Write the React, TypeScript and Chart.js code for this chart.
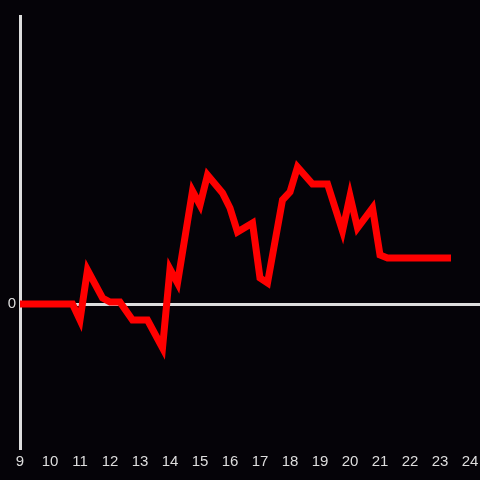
import React, { useEffect, useRef } from "react";
import { Chart, registerables } from "chart.js";

Chart.register(...registerables);

const hours = [9, 10.75, 11, 11.25, 11.75, 12, 12.33, 12.75, 13.25, 13.75, 14, 14.25, 14.75, 15, 15.25, 15.75, 16, 16.25, 16.75, 17, 17.25, 17.75, 18, 18.25, 18.75, 19.25, 19.75, 20, 20.25, 20.75, 21, 21.25, 23.25];
const values = [0, 0, -0.16, 0.34, 0.06, 0.02, 0.02, -0.16, -0.16, -0.44, 0.35, 0.21, 1.13, 0.99, 1.29, 1.11, 0.96, 0.72, 0.81, 0.26, 0.21, 1.04, 1.12, 1.37, 1.2, 1.2, 0.73, 1.08, 0.76, 0.96, 0.49, 0.46, 0.46];
const xTicks = [9, 10, 11, 12, 13, 14, 15, 16, 17, 18, 19, 20, 21, 22, 23, 24];
const yTicks = [0];

const BG = "#050308";
const AXIS = "#dddddd";

export default function App() {
  const ref = useRef<HTMLCanvasElement | null>(null);
  useEffect(() => {
    document.body.style.margin = "0";
    document.body.style.background = BG;
    const bgPlugin = {
      id: "bg",
      beforeDraw(chart: any) {
        const c = chart.ctx;
        c.save();
        c.fillStyle = BG;
        c.fillRect(0, 0, chart.width, chart.height);
        c.restore();
      },
    };
    const chart = new Chart(ref.current!, {
      type: "line",
      data: {
        datasets: [
          {
            data: hours.map((h, i) => ({ x: h, y: values[i] })),
            borderColor: "#ff0000",
            borderWidth: 7,
            borderCapStyle: "square",
            borderJoinStyle: "miter",
            pointRadius: 0,
            tension: 0,
            fill: false,
          },
        ],
      },
      options: {
        animation: false,
        responsive: false,
        maintainAspectRatio: false,
        layout: { padding: { top: 16, right: 0, left: 0, bottom: 0 } },
        plugins: { legend: { display: false }, tooltip: { enabled: false } },
        scales: {
          x: {
            type: "linear",
            min: 9,
            max: 24.333,
            afterBuildTicks: (s: any) => {
              s.ticks = xTicks.map((v) => ({ value: v }));
            },
            afterFit: (s: any) => {
              s.height = 32;
              s.paddingLeft = 0;
              s.paddingRight = 0;
            },
            grid: { display: false, drawTicks: false },
            border: { display: false },
            ticks: {
              color: AXIS,
              padding: 5,
              maxRotation: 0,
              autoSkip: false,
              font: { family: "'Liberation Sans', Arial, sans-serif", size: 15 },
              callback: (v: any) => String(v),
            },
          },
          y: {
            type: "linear",
            min: -1.44,
            max: 2.88,
            afterBuildTicks: (s: any) => {
              s.ticks = yTicks.map((v) => ({ value: v }));
            },
            afterFit: (s: any) => {
              s.width = 20;
              s.paddingTop = 0;
              s.paddingBottom = 0;
            },
            grid: { color: AXIS, lineWidth: 3, drawTicks: false },
            border: { display: true, color: AXIS, width: 3 },
            ticks: {
              color: AXIS,
              padding: 4,
              font: { family: "'Liberation Sans', Arial, sans-serif", size: 15 },
              callback: (v: any) => String(v),
            },
          },
        },
      },
      plugins: [bgPlugin],
    } as any);
    return () => chart.destroy();
  }, []);
  return (
    <div style={{ position: "fixed", left: 0, top: 0, width: 480, height: 480, background: BG }}>
      <canvas ref={ref} width={480} height={480} style={{ width: 480, height: 480 }} />
    </div>
  );
}
